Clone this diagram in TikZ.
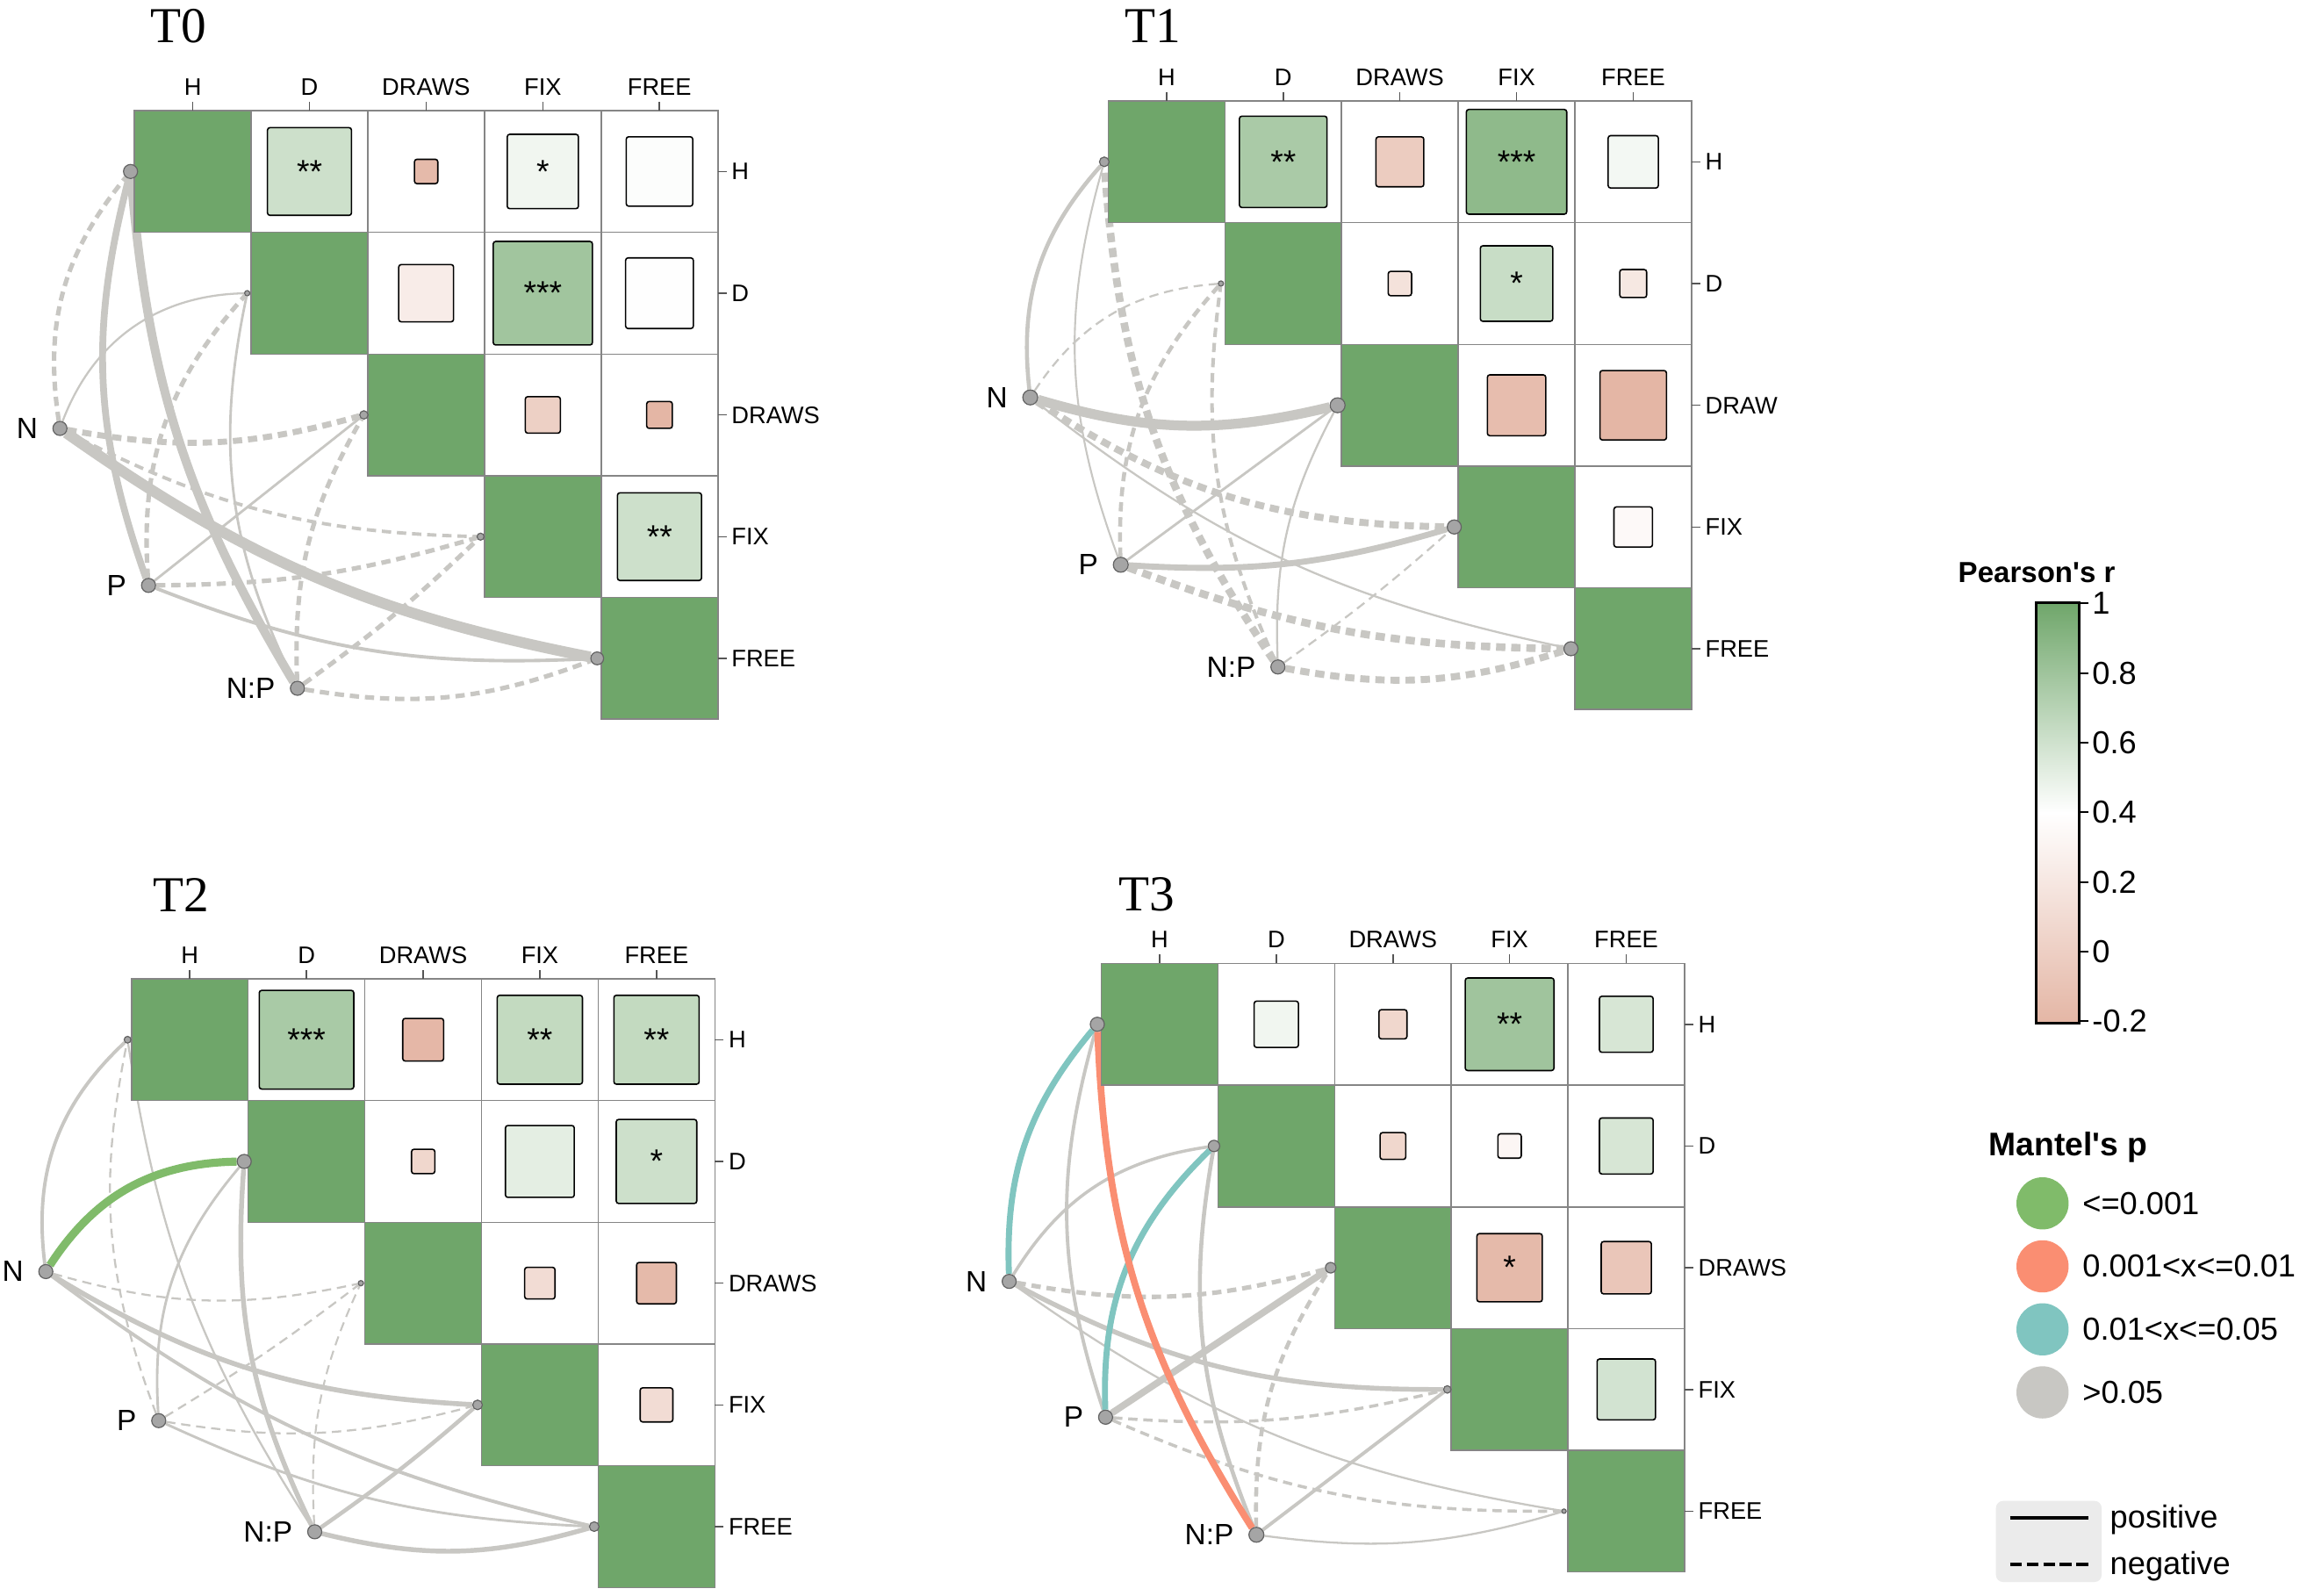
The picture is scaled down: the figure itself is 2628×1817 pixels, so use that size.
\documentclass[tikz,border=0pt]{standalone}
\usepackage{fontspec}
\setmainfont{Liberation Sans}
\newfontfamily\titlefont{Liberation Serif}
\usetikzlibrary{backgrounds}

\definecolor{gP}{HTML}{6FA66A}
\definecolor{rN}{HTML}{E4B6A5}
\definecolor{gridc}{HTML}{858585}
\definecolor{tickc}{HTML}{555555}
\definecolor{edgeg}{HTML}{C8C7C3}
\definecolor{dotc}{HTML}{A5A5A5}
\definecolor{dotb}{HTML}{646464}
\definecolor{pLow}{HTML}{80BB6A}
\definecolor{pMid}{HTML}{FA8E72}
\definecolor{pHigh}{HTML}{80C5C0}
\definecolor{keybox}{HTML}{EBEBEB}

\newcommand{\cellw}{132.9}
\newcommand{\cellh}{138.65}

% upper triangle, diagonal and axis labels of one panel
\newcommand{\corgrid}[2]{%
  \foreach \ri in {0,...,4}{
    \foreach \ci in {\ri,...,4}
      \draw[cellbox] (\ci*\cellw,\ri*\cellh) rectangle ++(\cellw,\cellh);
    \fill[gP] (\ri*\cellw,\ri*\cellh) rectangle ++(\cellw,\cellh);
    \draw[cellbox] (\ri*\cellw,\ri*\cellh) rectangle ++(\cellw,\cellh);
  }
  \foreach \lab [count=\k from 0] in {H,D,DRAWS,FIX,FREE}{
    \draw[tickln] ({(\k+0.5)*\cellw},0) -- ++(0,-10);
    \node[axlab,anchor=base] (#1top\k) at ({(\k+0.5)*\cellw},-18) {\lab};
  }
  \foreach \lab [count=\k from 0] in {#2}{
    \draw[tickln] (5*\cellw,{(\k+0.5)*\cellh}) -- ++(10,0);
    \node[axlab,anchor=west] (#1side\k) at (5*\cellw+15,{(\k+0.5)*\cellh}) {\lab};
  }
}

\tikzset{
  cellbox/.style={draw=gridc,line width=0.45pt},
  tickln/.style={draw=tickc,line width=0.45pt},
  axlab/.style={inner sep=0pt,font=\fontsize{7.75}{9}\selectfont},
  ptitle/.style={inner sep=0pt,anchor=base west,font=\titlefont\fontsize{16.3}{18}\selectfont},
  corsq/.style={draw=black,line width=0.45pt,rounded corners=0.8pt,inner sep=0pt,font=\fontsize{10.6}{11}\selectfont},
  vdot/.style={circle,draw=dotb,fill=dotc,line width=0.35pt,inner sep=0pt},
  posln/.style={draw=edgeg},
  negln/.style={draw=edgeg,dash pattern=on 3pt off 1.9pt},
  legtitle/.style={inner sep=0pt,anchor=base west,font=\bfseries\fontsize{10.6}{12}\selectfont},
  legtxt/.style={inner sep=0pt,anchor=west,font=\fontsize{10.3}{12}\selectfont},
  keydot/.style={circle,inner sep=0pt,minimum size=0.594cm}
}

\begin{document}
\begin{tikzpicture}[x=0.01cm,y=-0.01cm,label distance=0.16cm,
  every label/.style={inner sep=0pt,font=\fontsize{9.5}{11}\selectfont}]
\useasboundingbox (0,0) rectangle (2628,1817);
\begin{scope}[on background layer]
  \fill[white] (0,0) rectangle (2628,1817);
\end{scope}

% ---------- T0 ----------
\begin{scope}[shift={(153.2,126)}]
  \node[ptitle] (t0title) at (18,-77.3) {T0};
  \corgrid{t0}{H,D,DRAWS,FIX,FREE}
  \foreach \cx/\ry/\sz/\fc/\sg [count=\n] in {1/0/0.72/gP!35!white/**, 2/0/0.20/rN!95!white/{},
      3/0/0.61/gP!10!white/*, 4/0/0.57/gP!2!white/{}, 2/1/0.47/rN!26!white/{}, 3/1/0.85/gP!65!white/***,
      4/1/0.58/gP!1!white/{}, 3/2/0.30/rN!65!white/{}, 4/2/0.22/rN!100!white/{}, 4/3/0.72/gP!35!white/**}
    \node[corsq,fill=\fc,minimum width=\sz*1.329cm,minimum height=\sz*1.3865cm] (t0c\n) at ({(\cx+0.5)*\cellw},{(\ry+0.5)*\cellh}) {\sg};
  \node[vdot,minimum size=0.16cm] (t0h) at (-4.5,{0.5*\cellh}) {};
  \node[vdot,minimum size=0.06cm] (t0d) at ({\cellw-4.5},{1.5*\cellh}) {};
  \node[vdot,minimum size=0.095cm] (t0dr) at ({2*\cellw-4.5},{2.5*\cellh}) {};
  \node[vdot,minimum size=0.08cm] (t0fx) at ({3*\cellw-4.5},{3.5*\cellh}) {};
  \node[vdot,minimum size=0.146cm] (t0fr) at ({4*\cellw-4.5},{4.5*\cellh}) {};
  \node[vdot,minimum size=0.16cm,label=left:N] (t0n) at (-84.9,362) {};
  \node[vdot,minimum size=0.16cm,label=left:P] (t0p) at (16,540.8) {};
  \node[vdot,minimum size=0.16cm,label=left:N:P] (t0np) at (185.6,658) {};
  \begin{scope}[on background layer]
    \draw[negln,line width=1.45pt] (t0n) to[bend left=24] (t0h);
    \draw[posln,line width=0.65pt] (t0n) to[bend left=34] (t0d);
    \draw[negln,line width=1.95pt] (t0n) to[bend right=13] (t0dr);
    \draw[negln,line width=1.1pt] (t0n) to[bend right=13] (t0fx);
    \draw[posln,line width=3.5pt] (t0n) to[bend right=12] (t0fr);
    \draw[posln,line width=2.2pt] (t0p) to[bend left=17] (t0h);
    \draw[negln,line width=1.45pt] (t0p) to[bend left=23] (t0d);
    \draw[posln,line width=0.8pt] (t0p) -- (t0dr);
    \draw[negln,line width=1.45pt] (t0p) to[bend right=8] (t0fx);
    \draw[posln,line width=1.1pt] (t0p) to[bend right=12] (t0fr);
    \draw[posln,line width=2.85pt] (t0np) to[bend left=13] (t0h);
    \draw[posln,line width=0.8pt] (t0np) to[bend left=19] (t0d);
    \draw[negln,line width=1.45pt] (t0np) to[bend left=16] (t0dr);
    \draw[negln,line width=1.45pt] (t0np) to[bend right=4] (t0fx);
    \draw[negln,line width=1.45pt] (t0np) to[bend right=15] (t0fr);
  \end{scope}
\end{scope}

% ---------- T1 ----------
\begin{scope}[shift={(1262.4,115)}]
  \node[ptitle] (t1title) at (18.6,-66.9) {T1};
  \corgrid{t1}{H,D,DRAW,FIX,FREE}
  \foreach \cx/\ry/\sz/\fc/\sg [count=\n] in {1/0/0.75/gP!59!white/**, 2/0/0.41/rN!70!white/{},
      3/0/0.86/gP!78!white/***, 4/0/0.43/gP!8!white/{}, 2/1/0.20/rN!40!white/{}, 3/1/0.62/gP!38!white/*,
      4/1/0.23/rN!32!white/{}, 3/2/0.50/rN!90!white/{}, 4/2/0.57/rN!100!white/{}, 4/3/0.33/rN!8!white/{}}
    \node[corsq,fill=\fc,minimum width=\sz*1.329cm,minimum height=\sz*1.3865cm] (t1c\n) at ({(\cx+0.5)*\cellw},{(\ry+0.5)*\cellh}) {\sg};
  \node[vdot,minimum size=0.11cm] (t1h) at (-4.5,{0.5*\cellh}) {};
  \node[vdot,minimum size=0.06cm] (t1d) at ({\cellw-4.5},{1.5*\cellh}) {};
  \node[vdot,minimum size=0.17cm] (t1dr) at ({2*\cellw-4.5},{2.5*\cellh}) {};
  \node[vdot,minimum size=0.16cm] (t1fx) at ({3*\cellw-4.5},{3.5*\cellh}) {};
  \node[vdot,minimum size=0.16cm] (t1fr) at ({4*\cellw-4.5},{4.5*\cellh}) {};
  \node[vdot,minimum size=0.17cm,label=left:N] (t1n) at (-88.8,337.7) {};
  \node[vdot,minimum size=0.17cm,label=left:P] (t1p) at (14.3,528.3) {};
  \node[vdot,minimum size=0.16cm,label=left:N:P] (t1np) at (193.3,644.7) {};
  \begin{scope}[on background layer]
    \draw[posln,line width=1.3pt] (t1n) to[bend left=24] (t1h);
    \draw[negln,line width=0.65pt] (t1n) to[bend left=26] (t1d);
    \draw[posln,line width=3.2pt] (t1n) to[bend right=15] (t1dr);
    \draw[negln,line width=2.25pt] (t1n) to[bend right=16] (t1fx);
    \draw[posln,line width=0.65pt] (t1n) to[bend right=13] (t1fr);
    \draw[posln,line width=0.6pt] (t1p) to[bend left=18] (t1h);
    \draw[negln,line width=1.3pt] (t1p) to[bend left=22] (t1d);
    \draw[posln,line width=0.8pt] (t1p) -- (t1dr);
    \draw[posln,line width=1.95pt] (t1p) to[bend right=10] (t1fx);
    \draw[negln,line width=2.45pt] (t1p) to[bend right=10] (t1fr);
    \draw[negln,line width=2.45pt] (t1np) to[bend left=15] (t1h);
    \draw[negln,line width=1.15pt] (t1np) to[bend left=16] (t1d);
    \draw[posln,line width=0.65pt] (t1np) to[bend left=15] (t1dr);
    \draw[negln,line width=0.65pt] (t1np) to[bend right=3] (t1fx);
    \draw[negln,line width=2.25pt] (t1np) to[bend right=14] (t1fr);
  \end{scope}
\end{scope}

% ---------- T2 ----------
\begin{scope}[shift={(149.8,1115)}]
  \node[ptitle] (t2title) at (24,-76.3) {T2};
  \corgrid{t2}{H,D,DRAWS,FIX,FREE}
  \foreach \cx/\ry/\sz/\fc/\sg [count=\n] in {1/0/0.81/gP!60!white/***, 2/0/0.35/rN!98!white/{},
      3/0/0.73/gP!42!white/**, 4/0/0.73/gP!42!white/**, 2/1/0.20/rN!55!white/{}, 3/1/0.59/gP!19!white/{},
      4/1/0.69/gP!35!white/*, 3/2/0.26/rN!48!white/{}, 4/2/0.34/rN!95!white/{}, 4/3/0.28/rN!48!white/{}}
    \node[corsq,fill=\fc,minimum width=\sz*1.329cm,minimum height=\sz*1.3865cm] (t2c\n) at ({(\cx+0.5)*\cellw},{(\ry+0.5)*\cellh}) {\sg};
  \node[vdot,minimum size=0.077cm] (t2h) at (-4.5,{0.5*\cellh}) {};
  \node[vdot,minimum size=0.16cm] (t2d) at ({\cellw-4.5},{1.5*\cellh}) {};
  \node[vdot,minimum size=0.06cm] (t2dr) at ({2*\cellw-4.5},{2.5*\cellh}) {};
  \node[vdot,minimum size=0.11cm] (t2fx) at ({3*\cellw-4.5},{3.5*\cellh}) {};
  \node[vdot,minimum size=0.11cm] (t2fr) at ({4*\cellw-4.5},{4.5*\cellh}) {};
  \node[vdot,minimum size=0.16cm,label=left:N] (t2n) at (-97.6,333.4) {};
  \node[vdot,minimum size=0.16cm,label=left:P] (t2p) at (31,503.2) {};
  \node[vdot,minimum size=0.16cm,label=left:N:P] (t2np) at (208.7,629.8) {};
  \begin{scope}[on background layer]
    \draw[posln,line width=1.1pt] (t2n) to[bend left=27] (t2h);
    \draw[negln,line width=0.65pt] (t2n) to[bend right=14] (t2dr);
    \draw[posln,line width=1.6pt] (t2n) to[bend right=14] (t2fx);
    \draw[posln,line width=1.1pt] (t2n) to[bend right=12] (t2fr);
    \draw[negln,line width=0.65pt] (t2p) to[bend left=16] (t2h);
    \draw[posln,line width=0.82pt] (t2p) to[bend left=22] (t2d);
    \draw[negln,line width=0.65pt] (t2p) to[bend right=3] (t2dr);
    \draw[negln,line width=0.65pt] (t2p) to[bend right=12] (t2fx);
    \draw[posln,line width=0.82pt] (t2p) to[bend right=11] (t2fr);
    \draw[posln,line width=0.65pt] (t2np) to[bend left=12] (t2h);
    \draw[posln,line width=1.55pt] (t2np) to[bend left=15] (t2d);
    \draw[negln,line width=0.6pt] (t2np) to[bend left=14] (t2dr);
    \draw[posln,line width=1.3pt] (t2np) to[bend right=3] (t2fx);
    \draw[posln,line width=1.55pt] (t2np) to[bend right=15] (t2fr);
    \draw[posln,draw=pLow,line width=2.6pt] (t2n) to[bend left=28] (t2d);
  \end{scope}
\end{scope}

% ---------- T3 ----------
\begin{scope}[shift={(1254.5,1097.4)}]
  \node[ptitle] (t3title) at (19,-59.7) {T3};
  \corgrid{t3}{H,D,DRAWS,FIX,FREE}
  \foreach \cx/\ry/\sz/\fc/\sg [count=\n] in {1/0/0.38/gP!10!white/{}, 2/0/0.24/rN!55!white/{},
      3/0/0.76/gP!66!white/**, 4/0/0.46/gP!28!white/{}, 2/1/0.22/rN!55!white/{}, 3/1/0.20/rN!12!white/{},
      4/1/0.46/gP!28!white/{}, 3/2/0.56/rN!95!white/*, 4/2/0.43/rN!78!white/{}, 4/3/0.50/gP!31!white/{}}
    \node[corsq,fill=\fc,minimum width=\sz*1.329cm,minimum height=\sz*1.3865cm] (t3c\n) at ({(\cx+0.5)*\cellw},{(\ry+0.5)*\cellh}) {\sg};
  \node[vdot,minimum size=0.16cm] (t3h) at (-4.5,{0.5*\cellh}) {};
  \node[vdot,minimum size=0.13cm] (t3d) at ({\cellw-4.5},{1.5*\cellh}) {};
  \node[vdot,minimum size=0.12cm] (t3dr) at ({2*\cellw-4.5},{2.5*\cellh}) {};
  \node[vdot,minimum size=0.085cm] (t3fx) at ({3*\cellw-4.5},{3.5*\cellh}) {};
  \node[vdot,minimum size=0.05cm] (t3fr) at ({4*\cellw-4.5},{4.5*\cellh}) {};
  \node[vdot,minimum size=0.16cm,label=left:N] (t3n) at (-104.9,362.2) {};
  \node[vdot,minimum size=0.16cm,label=left:P] (t3p) at (4.9,516.9) {};
  \node[vdot,minimum size=0.17cm,label=left:N:P] (t3np) at (176.7,650.8) {};
  \begin{scope}[on background layer]
    \draw[posln,line width=1pt] (t3n) to[bend left=25] (t3d);
    \draw[negln,line width=1.45pt] (t3n) to[bend right=13] (t3dr);
    \draw[posln,line width=1.55pt] (t3n) to[bend right=14] (t3fx);
    \draw[posln,line width=0.65pt] (t3n) to[bend right=13] (t3fr);
    \draw[posln,line width=1.1pt] (t3p) to[bend left=17] (t3h);
    \draw[posln,line width=2.2pt] (t3p) -- (t3dr);
    \draw[negln,line width=1pt] (t3p) to[bend right=9] (t3fx);
    \draw[negln,line width=1pt] (t3p) to[bend right=12] (t3fr);
    \draw[posln,line width=1.3pt] (t3np) to[bend left=16] (t3d);
    \draw[negln,line width=1.3pt] (t3np) to[bend left=17] (t3dr);
    \draw[posln,line width=1.1pt] (t3np) -- (t3fx);
    \draw[posln,line width=0.65pt] (t3np) to[bend right=12] (t3fr);
    \draw[posln,draw=pHigh,line width=1.95pt] (t3n) to[bend left=21] (t3h);
    \draw[posln,draw=pHigh,line width=1.95pt] (t3p) to[bend left=24] (t3d);
    \draw[posln,draw=pMid,line width=2.2pt] (t3np) to[bend left=15] (t3h);
  \end{scope}
\end{scope}

% ---------- legends ----------
\node[legtitle,font=\bfseries\fontsize{9.4}{11}\selectfont] (pearson) at (2230,663) {Pearson\textquotesingle s r};
\shade[top color=gP,bottom color=white] (2319.3,686) rectangle (2368.3,925.8);
\shade[top color=white,bottom color=rN] (2319.3,925.8) rectangle (2368.3,1165.6);
\draw[line width=0.85pt] (2319.3,686) rectangle (2368.3,1165.6);
\foreach \v [count=\k from 0] in {1,0.8,0.6,0.4,0.2,0,-0.2}{
  \draw[line width=0.6pt] (2368.3,{687.3+\k*79.33}) -- ++(11,0);
  \node[legtxt] (cbar\k) at (2382.7,{687.3+\k*79.33}) {\v};
}

\node[legtitle] (mantel) at (2265,1316.7) {Mantel\textquotesingle s p};
\foreach \cl/\tx [count=\k from 0] in {pLow/{<=0.001},pMid/{0.001<x<=0.01},pHigh/{0.01<x<=0.05},edgeg/{>0.05}}{
  \node[keydot,fill=\cl] (key\k) at (2326.7,{1370.7+\k*71.77}) {};
  \node[legtxt] (keytxt\k) at (2371.7,{1370.7+\k*71.77}) {\tx};
}

\fill[keybox,rounded corners=0.08cm] (2273.7,1709.7) rectangle (2394,1802);
\coordinate (kpa) at (2289.7,1729.3);
\coordinate (kpb) at (2378.7,1729.3);
\coordinate (kna) at (2289.7,1782);
\coordinate (knb) at (2378.7,1782);
\draw[line width=1.15pt] (kpa) -- (kpb);
\draw[line width=1.15pt,dash pattern=on 3.84pt off 1.54pt] (kna) -- (knb);
\node[legtxt,anchor=base west] (kpos) at (2403,1740.3) {positive};
\node[legtxt,anchor=base west] (kneg) at (2403,1793) {negative};
\end{tikzpicture}
\end{document}
